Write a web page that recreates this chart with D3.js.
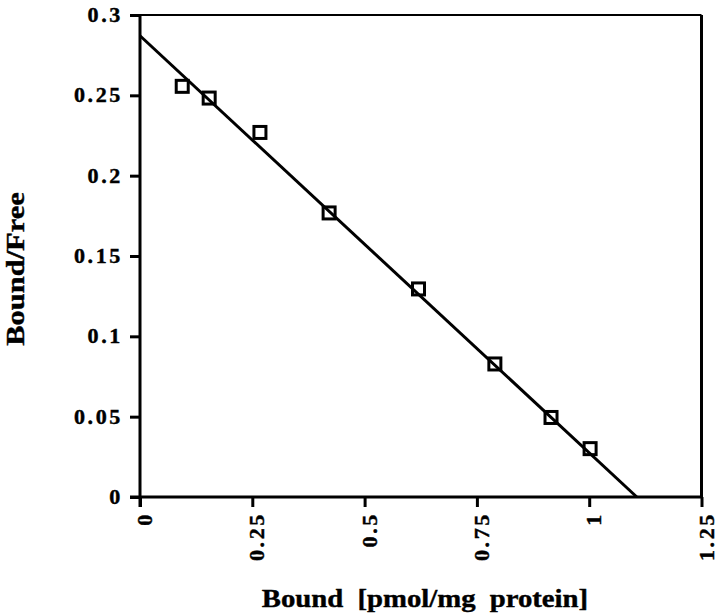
<!DOCTYPE html>
<html>
<head>
<meta charset="utf-8">
<script src="https://cdn.jsdelivr.net/npm/d3@7"></script>
<style>
  html, body { margin: 0; padding: 0; background: #fff; }
  svg { display: block; }
  text { font-family: "Liberation Serif", "Times New Roman", serif; font-weight: bold; fill: #000; stroke: #000; stroke-width: 0.4px; }
</style>
</head>
<body>
<svg id="chart" width="720" height="616"></svg>
<script>
// ---- data ----
const boundValues = [0.094, 0.154, 0.267, 0.421, 0.620, 0.790, 0.915, 1.002];
const ratioValues = [0.2556, 0.2483, 0.2269, 0.1768, 0.1295, 0.0828, 0.0495, 0.0301];
const fitStartBound = 0;      const fitStartRatio = 0.2871;
const fitEndBound = 1.106;    const fitEndRatio = 0;
const xTickValues = [0, 0.25, 0.5, 0.75, 1, 1.25];
const xTickLabels = ["0", "0.25", "0.5", "0.75", "1", "1.25"];
const yTickValues = [0, 0.05, 0.1, 0.15, 0.2, 0.25, 0.3];
const yTickLabels = ["0", "0.05", "0.1", "0.15", "0.2", "0.25", "0.3"];
const xTitle = "Bound [pmol/mg protein]";
const yTitle = "Bound/Free";

// ---- layout ----
const margin = { left: 140, top: 15, right: 18.5, bottom: 119 };
const W = 720, H = 616;
const iw = W - margin.left - margin.right;
const ih = H - margin.top - margin.bottom;

const svg = d3.select("#chart");
const g = svg.append("g").attr("transform", `translate(${margin.left},${margin.top})`);

const x = d3.scaleLinear().domain([0, 1.25]).range([0, iw]);
const y = d3.scaleLinear().domain([0, 0.3]).range([ih, 0]);

// frame: top and right borders
g.append("line").attr("x1", 0).attr("x2", iw).attr("y1", 0).attr("y2", 0)
  .attr("stroke", "#000").attr("stroke-width", 2);
g.append("line").attr("x1", iw).attr("x2", iw).attr("y1", 0).attr("y2", ih)
  .attr("stroke", "#000").attr("stroke-width", 3);

// x axis
const xAxis = g.append("g").attr("transform", `translate(0,${ih})`)
  .call(d3.axisBottom(x).tickValues(xTickValues).tickSize(10).tickFormat(""));
xAxis.select(".domain").attr("stroke-width", 3).attr("d", `M-10,0H${iw}`);
xAxis.selectAll(".tick line").attr("stroke-width", 3);
xAxis.selectAll(".tick").append("text")
  .attr("text-anchor", "end")
  .attr("dy", "0.36em")
  .attr("font-size", 21)
  .attr("letter-spacing", 2.5)
  .attr("transform", "translate(4,15) rotate(-90) scale(1.05,1)")
  .text((d, i) => xTickLabels[i]);

// y axis
const yAxis = g.append("g")
  .call(d3.axisLeft(y).tickValues(yTickValues).tickSize(10).tickFormat(""));
yAxis.select(".domain").attr("stroke-width", 3).attr("d", `M0,${ih + 10}V0`);
yAxis.selectAll(".tick line").attr("stroke-width", 3);
yAxis.selectAll(".tick").append("text")
  .attr("text-anchor", "end")
  .attr("dy", "0.36em")
  .attr("font-size", 21)
  .attr("letter-spacing", 2.5)
  .attr("transform", "translate(-17,-1) scale(1.05,1)")
  .text((d, i) => yTickLabels[i]);

// regression line
g.append("line")
  .attr("x1", x(fitStartBound)).attr("y1", y(fitStartRatio))
  .attr("x2", x(fitEndBound)).attr("y2", y(fitEndRatio))
  .attr("stroke", "#000").attr("stroke-width", 3);

// data points (open squares)
const pts = boundValues.map((b, i) => ({ b, r: ratioValues[i] }));
const s = 12;
g.selectAll("rect.pt").data(pts).enter().append("rect")
  .attr("class", "pt")
  .attr("x", d => x(d.b) - s / 2)
  .attr("y", d => y(d.r) - s / 2)
  .attr("width", s).attr("height", s)
  .attr("fill", "none").attr("stroke", "#000").attr("stroke-width", 3);

// axis titles
svg.append("text")
  .attr("text-anchor", "middle")
  .attr("font-size", 25)
  .attr("word-spacing", 6)
  .attr("transform", `translate(${margin.left + 285},${H - 9}) scale(1.15,1)`)
  .text(xTitle);

svg.append("text")
  .attr("text-anchor", "middle")
  .attr("font-size", 25)
  .attr("transform", `translate(24,${margin.top + 254}) rotate(-90) scale(1.22,1)`)
  .text(yTitle);
</script>
</body>
</html>
